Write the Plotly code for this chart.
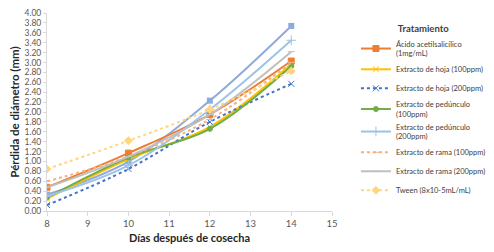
import plotly.graph_objects as go

days = [8, 10, 12, 14]
names = [
    "Ácido acetilsalicílico<br>(1mg/mL)",
    "Extracto de hoja (100ppm)",
    "Extracto de hoja (200ppm)",
    "Extracto de pedúnculo<br>(100ppm)",
    "Extracto de pedúnculo<br>(200ppm)",
    "Extracto de rama (100ppm)",
    "Extracto de rama (200ppm)",
    "Tween (8x10-5mL/mL)",
]
acido = [0.48, 1.17, 1.95, 3.03]
hoja100 = [0.25, 1.05, 1.70, 2.97]
hoja200 = [0.12, 0.85, 1.80, 2.57]
ped100 = [0.27, 1.08, 1.66, 2.93]
ped200 = [0.30, 0.92, 2.05, 3.45]
rama100 = [0.60, 1.10, 1.85, 3.00]
rama200 = [0.48, 1.10, 1.95, 3.22]
tween = [0.85, 1.42, 2.05, 2.83]
extra = [0.33, 1.00, 2.23, 3.74]

series = [acido, hoja100, hoja200, ped100, ped200, rama100, rama200, tween]
colors = ["#ED7D31", "#FFC000", "#4472C4", "#70AD47", "#9DC3E6", "#F4B183", "#BFBFBF", "#FFD580"]
dashes = ["solid", "solid", "dot", "solid", "solid", "dot", "solid", "dot"]
symbols = ["square", "x-thin", "x-thin", "circle", "cross-thin", "line-ew", "line-ew", "diamond"]
sizes = [6, 6, 6, 5, 7, 5, 5, 6]

fig = go.Figure()
fig.add_trace(go.Scatter(
    x=days, y=extra, mode="lines+markers", showlegend=False,
    line=dict(color="#8FAADC", width=2, shape="spline"),
    marker=dict(symbol="square", size=6, color="#8FAADC"),
))
for nm, ys, c, d, s, sz in zip(names, series, colors, dashes, symbols, sizes):
    fig.add_trace(go.Scatter(
        x=days, y=ys, name=nm, mode="lines+markers",
        line=dict(color=c, width=2, dash=d, shape="spline"),
        marker=dict(symbol=s, size=sz, color=c, line=dict(color=c, width=1)),
    ))

# page body has an 8px default margin: figure is sized/placed to compensate
fig.update_layout(
    width=510, height=236,
    margin=dict(l=39, r=186, t=5, b=33),
    paper_bgcolor="white", plot_bgcolor="white",
    font=dict(family="Lato, sans-serif", size=8, color="#595959"),
    legend=dict(
        title=dict(text="<b>Tratamiento</b>", font=dict(size=9.5, color="#404040"), side="top center"),
        x=1.084, y=0.965, xanchor="left", yanchor="top",
        font=dict(size=7.5, color="#404040"), tracegroupgap=0,
        itemwidth=30, bgcolor="rgba(0,0,0,0)",
    ),
    xaxis=dict(
        range=[8, 15], tick0=8, dtick=1, showgrid=False, zeroline=False, automargin=False,
        showline=True, linecolor="#D9D9D9", ticks="outside", ticklen=4, tickcolor="#D9D9D9",
        tickfont=dict(size=9.5),
        title=dict(text="<b>Días después de cosecha</b>", font=dict(size=11, color="#262626"), standoff=8),
    ),
    yaxis=dict(
        range=[0, 4.001], tick0=0, dtick=0.2, tickformat=".2f", showgrid=False, zeroline=False, automargin=False,
        showline=True, linecolor="#D9D9D9", ticks="outside", ticklen=3, tickcolor="#D9D9D9",
        tickfont=dict(size=8.5),
        title=dict(text="<b>Pérdida de diámetro (mm)</b>", font=dict(size=11.5, color="#262626"), standoff=6),
    ),
)
fig.write_html("out.html")
